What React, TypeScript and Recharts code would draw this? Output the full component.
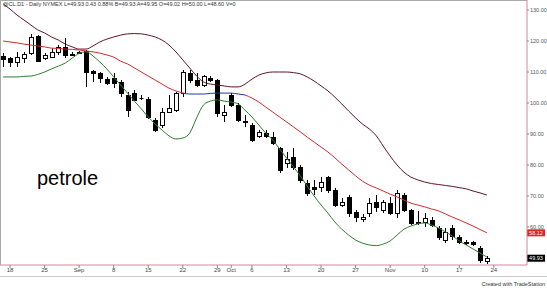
import React from 'react';
import { ComposedChart, Bar, Line, XAxis, YAxis, ReferenceLine } from 'recharts';

// ---- data (Aug 15 – Nov 21, 2008, daily crude oil) ----
const tickIndex = [1, 6, 11, 16, 21, 26, 31, 33, 36, 41, 46, 51, 56, 61, 66, 71];
const tickLabels = ['18', '25', 'Sep', '8', '15', '22', '29', 'Oct', '6', '13', '20', '27', 'Nov', '10', '17', '24'];
const priceTicks = [60, 70, 80, 90, 100, 110, 120, 130];

const openP = [
  115.2, 114.5, 113.2, 114.5, 116.1, 121.6, 114.5, 114.8, 116.5, 118.1,
  115.9, 116.2, 116.8, 110.3, 109.7, 107.7, 108.1, 106.8, 102.6, 103.2,
  101.7, 101.3, 94.5, 92.9, 97.1, 97.8, 103.2, 109.7, 107.4, 105.8,
  108.1, 107.4, 96.1, 102.6, 99.4, 94.2, 92.9, 89.4, 90.3, 89.0,
  85.5, 80.7, 82.6, 79.4, 74.2, 72.9, 72.9, 76.1, 71.9, 67.1,
  69.7, 64.8, 62.6, 64.5, 68.1, 65.5, 67.7, 64.5, 70.3, 65.5,
  61.6, 61.6, 62.3, 59.7, 55.8, 59.7, 56.8, 55.2, 55.0, 53.2,
  49.0,
];
const highP = [
  116.1, 114.8, 116.5, 116.5, 122.3, 121.9, 116.1, 117.7, 118.7, 120.9,
  116.5, 116.8, 117.1, 110.7, 110.0, 108.4, 109.7, 107.4, 103.6, 104.2,
  102.6, 101.9, 95.2, 98.4, 102.6, 103.6, 110.6, 110.6, 109.7, 109.0,
  108.7, 107.7, 99.4, 103.2, 100.0, 96.1, 93.6, 91.2, 91.3, 90.6,
  85.8, 84.2, 85.5, 80.0, 75.2, 75.2, 76.1, 76.4, 72.6, 69.4,
  70.3, 65.5, 64.2, 69.4, 70.3, 68.7, 69.7, 72.0, 71.0, 65.8,
  65.2, 64.5, 63.2, 60.3, 59.7, 60.6, 57.4, 55.8, 55.5, 53.9,
  50.6,
];
const lowP = [
  111.6, 111.6, 111.6, 112.9, 115.5, 113.2, 113.9, 114.5, 115.5, 114.5,
  115.2, 115.8, 105.2, 106.8, 106.5, 105.8, 104.8, 101.9, 95.5, 100.6,
  101.0, 94.8, 90.6, 91.9, 96.8, 97.1, 101.9, 106.5, 105.2, 105.2,
  106.8, 95.5, 93.9, 98.7, 93.9, 92.3, 87.4, 88.7, 88.7, 86.4,
  77.4, 79.0, 78.4, 74.2, 70.0, 70.3, 71.3, 71.0, 66.5, 66.5,
  63.2, 61.6, 61.6, 63.2, 64.8, 64.5, 63.9, 62.9, 64.8, 60.6,
  60.6, 60.0, 60.0, 55.8, 54.8, 55.8, 54.5, 54.2, 54.0, 48.4,
  48.1,
];
const closeP = [
  114.2, 113.2, 114.8, 115.8, 121.3, 113.6, 115.5, 116.5, 118.1, 115.5,
  115.6, 116.4, 110.0, 109.7, 108.1, 106.5, 106.5, 103.2, 97.8, 101.0,
  101.5, 95.5, 91.3, 97.1, 98.4, 103.2, 110.0, 107.4, 105.8, 108.7,
  107.4, 96.8, 97.1, 99.4, 94.5, 93.9, 88.1, 90.6, 89.4, 87.1,
  78.4, 81.9, 79.4, 75.2, 71.0, 72.3, 74.5, 71.9, 67.1, 68.1,
  64.5, 63.2, 63.2, 67.7, 66.5, 68.1, 64.5, 70.9, 65.5, 61.3,
  61.2, 62.9, 60.6, 56.8, 58.4, 57.1, 55.2, 54.8, 54.4, 49.5,
  49.93,
];
const upperBand = [
  132.0, 130.3, 128.4, 126.8, 125.2, 123.6, 122.6, 121.3, 120.3, 119.0,
  118.1, 117.4, 117.4, 118.4, 119.7, 120.6, 121.3, 121.9, 122.3, 122.4,
  122.3, 121.9, 121.3, 120.3, 118.7, 116.5, 113.9, 111.3, 108.7, 106.8,
  106.1, 105.8, 105.5, 105.2, 105.2, 106.1, 107.7, 109.0, 109.7, 110.0,
  110.0, 110.0, 109.8, 109.4, 108.4, 107.1, 105.5, 103.9, 101.9, 99.7,
  97.4, 95.2, 93.2, 91.6, 89.4, 86.1, 82.9, 80.0, 77.7, 76.1,
  75.2, 74.5, 74.0, 73.7, 73.4, 73.1, 72.7, 72.3, 71.6, 71.0,
  70.3,
];
const midBand = [
  120.0, 119.7, 119.4, 119.0, 118.7, 118.4, 118.1, 117.7, 117.6, 117.4,
  117.3, 117.1, 116.8, 116.5, 116.1, 115.5, 114.8, 113.5, 112.6, 111.3,
  110.0, 108.7, 107.4, 106.1, 104.8, 103.9, 103.2, 102.9, 102.9, 102.9,
  103.1, 103.2, 103.2, 103.2, 102.9, 102.6, 101.6, 100.3, 98.7, 97.1,
  95.5, 93.9, 92.3, 90.7, 89.0, 87.4, 85.8, 84.2, 82.3, 80.3,
  78.4, 76.5, 74.8, 73.5, 72.6, 71.6, 70.6, 69.7, 68.7, 67.7,
  67.1, 66.5, 65.8, 65.2, 64.2, 63.2, 62.3, 61.3, 60.3, 59.2,
  58.12,
];
const lowerBand = [
  108.4, 108.4, 108.4, 108.6, 108.7, 109.2, 110.0, 111.0, 111.9, 112.9,
  114.5, 116.0, 116.5, 115.2, 113.2, 111.0, 108.4, 105.8, 103.2, 100.6,
  98.1, 95.5, 93.2, 91.3, 89.4, 88.4, 88.7, 90.3, 95.2, 99.4,
  100.6, 101.0, 100.6, 100.3, 99.7, 97.7, 95.5, 92.9, 90.3, 88.1,
  85.2, 82.3, 79.4, 76.5, 73.2, 70.0, 67.1, 64.5, 61.6, 59.3,
  57.4, 55.8, 54.8, 54.2, 54.0, 54.5, 55.5, 57.4, 59.3, 60.3,
  61.0, 61.3, 60.6, 59.7, 58.4, 57.1, 55.5, 54.2, 52.9, 51.6,
  50.3,
];
// mid band painted blue between these bar indexes
const blueStart = 26;
const blueEnd = 35;

const lastIdx = closeP.length - 1;
const data = closeP.map((c, i) => ({
  i,
  open: openP[i],
  high: highP[i],
  low: lowP[i],
  close: c,
  upper: upperBand[i],
  mid: i > blueStart && i < blueEnd ? null : midBand[i],
  midBlue: i >= blueStart && i <= blueEnd ? midBand[i] : null,
  lower: lowerBand[i],
}));

const labelOf = (v: number) => {
  const k = tickIndex.indexOf(v);
  return k >= 0 ? tickLabels[k] : '';
};

const Candle = (props: any) => {
  const { x, y, width, height, payload } = props;
  if (x == null || y == null || !payload) return null;
  const { open, close, high, low } = payload;
  const range = high - low;
  const ppu = range > 0 ? height / range : 0;
  const yOf = (v: number) => y + (high - v) * ppu;
  const cx = Math.round(x + width / 2) + 0.5;
  const top = Math.round(yOf(Math.max(open, close))) + 0.5;
  const bot = Math.round(yOf(Math.min(open, close))) + 0.5;
  const up = close >= open;
  return (
    <g>
      <line x1={cx} x2={cx} y1={Math.round(y)} y2={Math.round(y + height)} stroke="#000" strokeWidth={1} />
      {bot - top < 1 ? (
        <line x1={cx - 2} x2={cx + 2} y1={top} y2={top} stroke="#000" strokeWidth={1} />
      ) : (
        <rect x={cx - 2} y={top} width={4} height={bot - top} fill={up ? '#fff' : '#000'} stroke="#000" strokeWidth={1} />
      )}
    </g>
  );
};

const PriceTag = (props: any) => {
  const { viewBox, fill, value } = props;
  if (!viewBox) return null;
  const x = viewBox.x + viewBox.width;
  const y = viewBox.y;
  return (
    <g>
      <rect x={x} y={y - 3.5} width={18} height={7} fill={fill} />
      <text x={x + 9} y={y + 2} textAnchor="middle" fontSize={5.5} fill="#fff" fontFamily="Liberation Sans, Arial, sans-serif">
        {value}
      </text>
    </g>
  );
};

const AXIS = '#d08a9c';

export default function App() {
  return (
    <div style={{ position: 'absolute', left: 0, top: 0, width: 547, height: 288, background: '#fff', overflow: 'hidden', fontFamily: 'Liberation Sans, Arial, sans-serif' }}>
      <ComposedChart width={547} height={288} data={data} margin={{ top: 0, right: 0, bottom: 0, left: 0 }}>
        <XAxis
          dataKey="i"
          type="number"
          domain={[-0.45, 75.8]}
          allowDataOverflow
          ticks={tickIndex}
          interval={0}
          tickFormatter={labelOf}
          height={23}
          axisLine={{ stroke: AXIS }}
          tickLine={{ stroke: '#888' }}
          tickSize={3}
          tickMargin={0}
          tick={{ fontSize: 6, fill: '#444' }}
        />
        <YAxis
          orientation="right"
          domain={[47.74, 133.23]}
          allowDataOverflow
          ticks={priceTicks}
          interval={0}
          tickFormatter={(v: number) => v.toFixed(2)}
          width={20}
          axisLine={{ stroke: AXIS }}
          tickLine={{ stroke: '#888' }}
          tickSize={2}
          tickMargin={1}
          tick={{ fontSize: 5.5, fill: '#555' }}
        />
        <Bar dataKey={(d: any) => [d.low, d.high]} barSize={5} shape={<Candle />} activeBar={false} isAnimationActive={false} />
        <Line type="monotone" dataKey="upper" stroke="#5e1424" strokeWidth={1} dot={false} activeDot={false} isAnimationActive={false} />
        <Line type="monotone" dataKey="mid" stroke="#d42a2a" strokeWidth={1} dot={false} activeDot={false} connectNulls={false} isAnimationActive={false} />
        <Line type="monotone" dataKey="midBlue" stroke="#2038a8" strokeWidth={1} dot={false} activeDot={false} connectNulls={false} isAnimationActive={false} />
        <Line type="monotone" dataKey="lower" stroke="#2e7d2e" strokeWidth={1} dot={false} activeDot={false} isAnimationActive={false} />
        <ReferenceLine y={midBand[lastIdx]} stroke="none" ifOverflow="visible" label={<PriceTag fill="#e8201c" value={midBand[lastIdx].toFixed(2)} />} />
        <ReferenceLine y={closeP[lastIdx]} stroke="none" ifOverflow="visible" label={<PriceTag fill="#000" value={closeP[lastIdx].toFixed(2)} />} />
      </ComposedChart>
      <div style={{ position: 'absolute', left: 0, top: 0, width: 527, height: 265, borderTop: '1px solid #aaa', borderLeft: '1px solid #aaa', boxSizing: 'border-box', pointerEvents: 'none' }} />
      <div style={{ position: 'absolute', left: 3, top: 1, fontSize: 5.5, color: '#333', whiteSpace: 'nowrap', lineHeight: '6px' }}>
        @CL.D1 - Daily NYMEX L=49.93 0.43 0.88% B=49.93 A=49.95 O=49.02 H=50.00 L=48.60 V=0
      </div>
      <div style={{ position: 'absolute', left: 37, top: 168, fontSize: 20, lineHeight: '20px', color: '#000' }}>petrole</div>
      <div style={{ position: 'absolute', left: 0, top: 276, width: 547, height: 0, borderTop: '1px solid #ccc' }} />
      <div style={{ position: 'absolute', right: 2, top: 281, fontSize: 5.5, color: '#333', whiteSpace: 'nowrap', lineHeight: '6px' }}>
        Created with TradeStation
      </div>
    </div>
  );
}
